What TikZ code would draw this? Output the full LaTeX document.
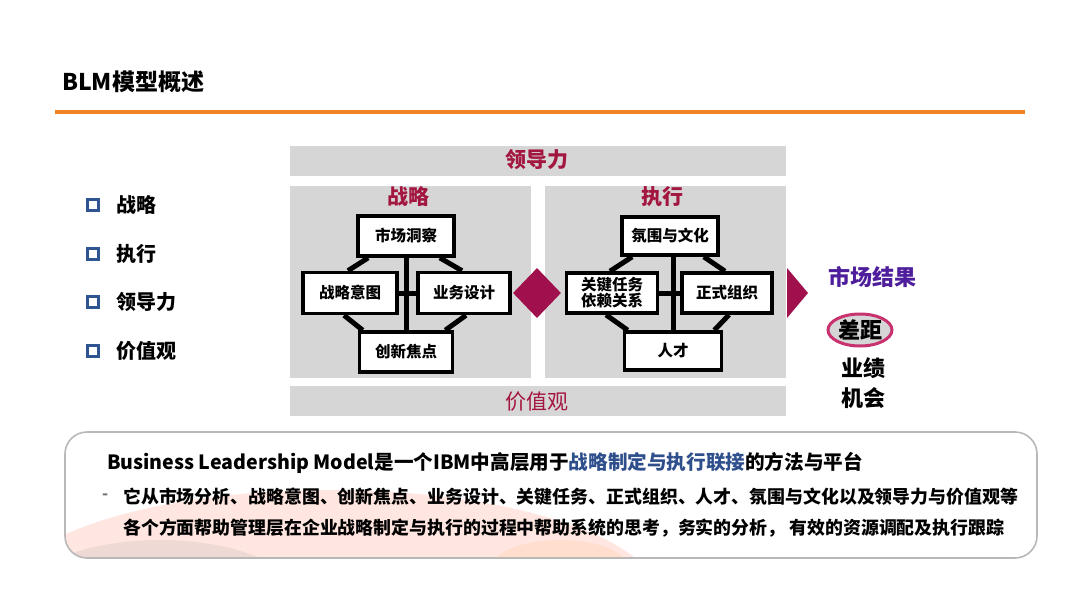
\documentclass[tikz,border=0pt]{standalone}
\usepackage{fontspec}
\setmainfont{Noto Sans CJK SC}
\usetikzlibrary{shapes.geometric,calc}
\definecolor{dred}{HTML}{A3163F}
\definecolor{mag}{HTML}{A0104C}
\definecolor{pgray}{HTML}{D6D6D6}
\definecolor{orangeline}{HTML}{F08424}
\definecolor{purp}{HTML}{4F1E9C}
\definecolor{pinkring}{HTML}{C8326E}
\definecolor{bblue}{HTML}{2F5590}
\definecolor{tblue}{HTML}{2E4E8C}
\pgfdeclarelayer{back}
\pgfdeclarelayer{links}
\pgfsetlayers{back,links,main}
\tikzset{
  fbox/.style={draw=black, line width=3.6pt, fill=white, inner sep=0pt, align=center,
    font=\fontsize{15.5}{16}\selectfont\bfseries},
  link/.style={line width=5pt, black},
  head/.style={text=dred, font=\fontsize{21}{24}\selectfont\bfseries},
  bullet/.style={draw=bblue, line width=3pt, minimum size=11pt, inner sep=0pt},
  ltext/.style={anchor=west, font=\fontsize{20}{22}\selectfont\bfseries},
  rtext/.style={font=\fontsize{22}{24}\selectfont\bfseries},
}
\begin{document}
\begin{tikzpicture}[x=1pt,y=-1pt]
\useasboundingbox (0,0) rectangle (1080,608);
\begin{pgfonlayer}{back}
\fill[white] (0,0) rectangle (1080,608);
\fill[pgray] (290,146) rectangle (786,176);
\fill[pgray] (290,186) rectangle (531,378);
\fill[pgray] (545,186) rectangle (786,378);
\fill[pgray] (290,386) rectangle (786,416);
\end{pgfonlayer}
% title
\node[anchor=west, inner sep=0, font=\fontsize{23}{26}\selectfont\bfseries] (title) at (62,82) {BLM模型概述};
\draw[orangeline, line width=4pt] (55,112) -- (1025,112);
% left list
\foreach \y/\t [count=\i] in {205/战略,254/执行,302/领导力,351/价值观}{
  \node[bullet] (b\i) at (93,\y) {};
  \node[ltext] (l\i) at (113,\y) {\t};
}
% panel labels
\node[head] (lead) at (537,160) {领导力};
\node[text=dred, font=\fontsize{21}{24}\selectfont] (val) at (537,402) {价值观};
\node[head] (zl) at (408,197) {战略};
\node[head] (zx) at (662,197) {执行};
% strategy diagram
\node[fbox, minimum width=96pt, minimum height=40pt] (sA) at (406,236) {市场洞察};
\node[fbox, minimum width=94pt, minimum height=41pt] (sB) at (350,293) {战略意图};
\node[fbox, minimum width=92pt, minimum height=41pt] (sC) at (464,293) {业务设计};
\node[fbox, minimum width=93pt, minimum height=40pt] (sD) at (406,352) {创新焦点};
% execution diagram
\node[fbox, minimum width=96pt, minimum height=38pt] (eA) at (670,236) {氛围与文化};
\node[fbox, minimum width=91pt, minimum height=40pt, font=\fontsize{15.5}{15}\selectfont\bfseries] (eB) at (612,293) {关键任务\\依赖关系};
\node[fbox, minimum width=90pt, minimum height=40pt] (eC) at (727,293) {正式组织};
\node[fbox, minimum width=97pt, minimum height=38pt] (eD) at (673,351) {人才};
% connectors behind boxes
\begin{pgfonlayer}{links}
\foreach \p in {s,e}{
  \draw[link] (\p D.north) -- (\p D.north |- \p A.south);
  \draw[link] (\p B.east) -- (\p C.west);
  \draw[link] ($(\p A.south west)+(12,0)$) -- ($(\p B.north)+(-2,0)$);
  \draw[link] ($(\p A.south east)+(-16,0)$) -- ($(\p C.north)+(-2,0)$);
  \draw[link] ($(\p B.south)+(-6,0)$) -- ($(\p D.north west)+(5,0)$);
  \draw[link] ($(\p C.south)+(2,0)$) -- ($(\p D.north east)+(-9,0)$);
}
\end{pgfonlayer}
% diamond and arrow
\node[diamond, fill=mag, minimum width=48pt, minimum height=50pt, inner sep=0pt] (dia) at (537,293) {};
\fill[mag] (787,268) -- (808,293) -- (787,318) -- cycle;
% results
\node[rtext, text=purp] (mkt) at (872,277) {市场结果};
\node[ellipse, draw=pinkring, line width=3pt, fill=pgray, minimum width=64pt, minimum height=32pt, inner sep=0pt, rtext] (gap) at (860,330) {差距};
\node[rtext] (yj) at (863,368) {业绩};
\node[rtext] (jh) at (863,398) {机会};
% bottom box
\begin{scope}
\clip[rounded corners=22pt] (65,432) rectangle (1037,558);
\fill[red!60!orange, opacity=0.12] (330,600) ellipse (330pt and 110pt);
\fill[gray, opacity=0.12] (160,600) ellipse (140pt and 60pt);
\fill[orange, opacity=0.08] (560,570) ellipse (70pt and 30pt);
\end{scope}
\draw[draw=black!28, line width=1.6pt, rounded corners=22pt] (65,432) rectangle (1037,558);
\node[anchor=west, inner sep=0, font=\fontsize{19.6}{22}\selectfont\bfseries] (t1) at (107,463) {Business Leadership Model是一个IBM中高层用于\textcolor{tblue}{战略制定与执行联接}的方法与平台};
\node[anchor=west, inner sep=0, font=\fontsize{16}{18}\selectfont\bfseries, text=black!55] (dash) at (102,497) {-};
\node[anchor=west, inner sep=0, font=\fontsize{17.9}{20}\selectfont\bfseries] (t2) at (123,497) {它从市场分析、战略意图、创新焦点、业务设计、关键任务、正式组织、人才、氛围与文化以及领导力与价值观等};
\node[anchor=west, inner sep=0, font=\fontsize{17.9}{20}\selectfont\bfseries] (t3) at (123,528) {各个方面帮助管理层在企业战略制定与执行的过程中帮助系统的思考，务实的分析， 有效的资源调配及执行跟踪};
\end{tikzpicture}
\end{document}
